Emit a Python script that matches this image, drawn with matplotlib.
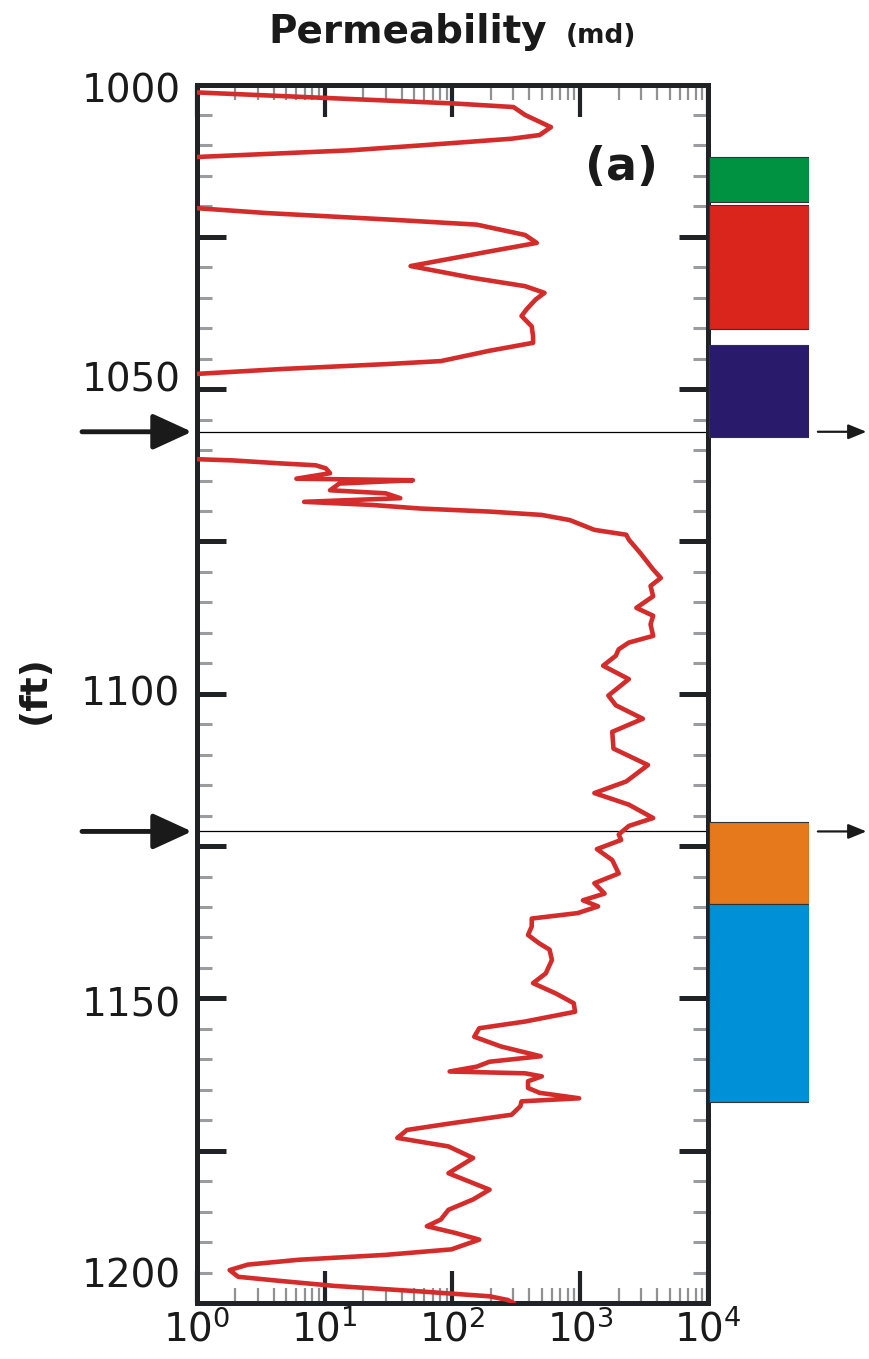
import numpy as np
import matplotlib
matplotlib.use("Agg")
import matplotlib.pyplot as plt
from matplotlib.ticker import LogLocator, MultipleLocator, FixedLocator, NullFormatter
from matplotlib.transforms import blended_transform_factory, ScaledTranslation

# ---------------- data ----------------
depth_ft = [
    1000.5, 1001.3, 1002.2, 1003.1, 1003.7, 1005.0, 1007.0, 1008.3, 1008.9, 1010.0,
    1010.8, 1011.3, 1011.9, 1012.5, 1019.8, 1020.3, 1021.1, 1022.2, 1023.0, 1024.7,
    1026.0, 1027.4, 1029.8, 1031.75, 1033.1, 1034.2, 1035.3, 1036.9, 1038.0, 1039.7,
    1041.3, 1042.4, 1043.7, 1045.4, 1045.9, 1046.7, 1047.5, 1048.0, 1061.0, 1061.5,
    1061.7, 1062.2, 1062.5, 1063.0, 1063.8, 1064.7, 1064.95, 1065.5, 1066.6, 1067.1,
    1067.9, 1068.5, 1069.0, 1069.6, 1070.1, 1070.65, 1071.5, 1073.1, 1073.9, 1074.7,
    1076.9, 1079.6, 1081.0, 1082.3, 1084.0, 1085.9, 1087.2, 1088.6, 1090.5, 1091.6,
    1092.7, 1093.75, 1095.4, 1097.6, 1100.3, 1101.9, 1104.1, 1106.25, 1109.0, 1111.7,
    1114.4, 1116.3, 1118.2, 1120.4, 1121.7, 1123.1, 1124.0, 1125.5, 1127.3, 1129.5,
    1131.1, 1132.8, 1133.9, 1134.9, 1136.0, 1136.9, 1138.2, 1139.6, 1141.0, 1142.0,
    1143.7, 1145.9, 1147.5, 1149.2, 1150.8, 1152.2, 1153.8, 1154.9, 1156.3, 1157.9,
    1159.5, 1160.4, 1161.2, 1162.0, 1162.3, 1162.8, 1163.6, 1164.7, 1165.5, 1166.4,
    1166.9, 1167.7, 1169.1, 1170.5, 1171.6, 1172.9, 1174.3, 1176.2, 1178.7, 1181.4,
    1183.0, 1184.7, 1186.3, 1187.4, 1188.5, 1189.6, 1191.2, 1192.1, 1192.9, 1193.7,
    1194.6, 1195.7, 1196.4, 1197.2, 1198.1, 1198.9, 1199.5, 1200.0,
]
perm_md = [
    0.5, 1.0, 10, 100, 300, 370, 590, 480, 290, 56,
    16, 4.6, 1.0, 0.3, 0.3, 1.0, 3.5, 34, 155, 370,
    457, 195, 47, 145, 370, 525, 447, 380, 347, 417,
    427, 427, 195, 81, 30, 4.6, 1.0, 0.3, 0.3, 1.0,
    1.9, 4.6, 8.5, 10.2, 11, 6.0, 49, 13, 11, 30,
    39, 6.9, 23, 56, 195, 500, 830, 1290, 2290, 2400,
    2950, 3720, 4270, 3550, 3720, 2750, 3720, 3550, 3720, 2400,
    2000, 1900, 1510, 2400, 1660, 1900, 3090, 1780, 1820, 3390,
    2290, 1290, 2400, 3720, 2400, 2000, 2090, 1350, 1780, 2000,
    1290, 1550, 1050, 1380, 955, 417, 417, 390, 480, 575,
    600, 537, 427, 645, 890, 910, 370, 162, 148, 240,
    490, 195, 155, 95, 370, 500, 390, 390, 480, 980,
    347, 340, 290, 98, 44, 37, 93, 145, 93, 195,
    145, 93, 81, 63, 105, 162, 98, 30, 6.3, 2.5,
    1.8, 2.1, 4.6, 12, 56, 195, 270, 300,
]

marker_depths = [1057.0, 1122.6]          # horizontal lines with arrows

zone_top = [1011.9, 1019.8, 1042.7, 1121.0, 1134.5]
zone_bottom = [1019.3, 1040.1, 1057.8, 1134.5, 1167.0]
zone_colors = ["#009241", "#da251d", "#2a1a6c", "#e5791c", "#0090d8"]

ytick_values = [1000, 1050, 1100, 1150, 1200]
ytick_labels = ["1000", "1050", "1100", "1150", "1200"]

# ---------------- figure ----------------
W, H = 869, 1359
fig = plt.figure(figsize=(W / 100, H / 100), dpi=100)
plt.rcParams["font.family"] = ["DejaVu Sans"]

ax_l, ax_r = 197 / W, 708 / W
ax_t, ax_b = 84.5 / H, 1303 / H
ax = fig.add_axes([ax_l, 1 - ax_b, ax_r - ax_l, ax_b - ax_t])

curve_red = "#d42b2b"
dark = "#1f2326"

ax.plot(perm_md, depth_ft, color=curve_red, lw=3.3, solid_joinstyle="round", zorder=3)
ax.set_xscale("log")
ax.set_xlim(1, 1e4)
ax.set_ylim(1200, 1000)

for d in marker_depths:
    ax.axhline(d, color="black", lw=0.9, zorder=2)

# ticks
ax.yaxis.set_major_locator(FixedLocator([1000, 1025, 1050, 1075, 1100, 1125, 1150, 1175, 1200]))
ax.yaxis.set_minor_locator(MultipleLocator(5))
ax.yaxis.set_major_formatter(plt.FuncFormatter(
    lambda v, p: ytick_labels[ytick_values.index(int(round(v)))] if int(round(v)) in ytick_values else ""))
ax.xaxis.set_major_locator(LogLocator(base=10, numticks=10))
ax.xaxis.set_minor_locator(LogLocator(base=10, subs=np.arange(2, 10), numticks=50))
ax.xaxis.set_minor_formatter(NullFormatter())

ax.tick_params(axis="y", which="major", direction="in", left=True, right=True,
               length=21, width=3.6, color=dark, labelsize=28, pad=12, labelcolor="#1a1a1a")
ax.tick_params(axis="y", which="minor", direction="in", left=True, right=True,
               length=11, width=2.2, color="#9a9c9e")
ax.tick_params(axis="x", which="major", direction="in", top=True, bottom=True,
               length=23, width=3.0, color=dark, labelsize=28, pad=5, labelcolor="#1a1a1a")
ax.tick_params(axis="x", which="minor", direction="in", top=True, bottom=True,
               length=11, width=1.6, color="#8f9193")

for s in ax.spines.values():
    s.set_linewidth(3.6)
    s.set_color(dark)

# nudge y tick labels to their positions in the reference
nudge_px = {1000: -3, 1050: 13, 1100: 3, 1150: -3, 1200: 30}
fig.canvas.draw()
for tk in ax.yaxis.get_major_ticks():
    v = int(round(tk.get_loc()))
    if v in nudge_px:
        tk.label1.set_transform(tk.label1.get_transform() +
                                ScaledTranslation(0, nudge_px[v] / 100, fig.dpi_scale_trans))

# panel label
ax.text(0.83, 1 - (168 - 84.5) / (1303 - 84.5), "(a)", transform=ax.transAxes,
        fontsize=33, fontweight="bold", ha="center", va="center", color="#1a1a1a")

# zone boxes
ax2 = fig.add_axes([709 / W, 1 - ax_b, 100 / W, ax_b - ax_t], sharey=ax)
ax2.set_xlim(0, 1)
centers = [(a + b) / 2 for a, b in zip(zone_top, zone_bottom)]
heights = [b - a for a, b in zip(zone_top, zone_bottom)]
ax2.barh(centers, [1] * len(centers), height=heights, left=0, color=zone_colors,
         edgecolor="#333333", linewidth=0.8)
ax2.axis("off")

# arrows
tr = blended_transform_factory(ax.transAxes, ax.transData)
for d in marker_depths:
    ax.annotate("", xy=(-0.01, d), xycoords=tr, xytext=(-0.225, d), textcoords=tr,
                arrowprops=dict(arrowstyle="-|>,head_length=1.2,head_width=0.55",
                                mutation_scale=20, lw=3.5, color="#1a1a1a",
                                shrinkA=0, shrinkB=0), annotation_clip=False)
    ax.annotate("", xy=(1.31, d), xycoords=tr, xytext=(1.215, d), textcoords=tr,
                arrowprops=dict(arrowstyle="-|>,head_length=1.1,head_width=0.45",
                                mutation_scale=10, lw=1.6, color="#1a1a1a",
                                shrinkA=0, shrinkB=0), annotation_clip=False)

# titles
fig.text(408 / W, 1 - 43 / H, "Permeability", ha="center", va="baseline",
         fontsize=28, fontweight="bold", color="#1a1a1a")
fig.text(566 / W, 1 - 43 / H, "(md)", ha="left", va="baseline",
         fontsize=19, fontweight="bold", color="#1a1a1a")
fig.text(35 / W, 1 - 690 / H, "(ft)", ha="center", va="center", rotation=90,
         fontsize=27, fontweight="bold", color="#1a1a1a")

fig.savefig("out.png", dpi=100)
